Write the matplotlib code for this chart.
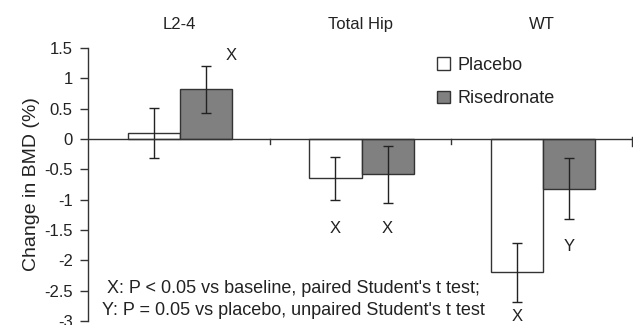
import matplotlib
matplotlib.use("Agg")
import matplotlib.pyplot as plt
import numpy as np

plt.rcParams["font.family"] = ["Liberation Sans", "DejaVu Sans"]

sites = ["L2-4", "Total Hip", "WT"]
placebo = [0.10, -0.65, -2.20]
placebo_err = [0.41, 0.36, 0.49]
risedronate = [0.82, -0.58, -0.82]
risedronate_err = [0.39, 0.47, 0.50]

# significance marks: (site index, arm, y, symbol)
marks = [(0, "ris", 1.38, "X"), (1, "pla", -1.47, "X"), (1, "ris", -1.47, "X"),
         (2, "pla", -2.93, "X"), (2, "ris", -1.78, "Y")]

INK = "#222222"
W = 0.287

fig = plt.figure(figsize=(6.35, 3.25), dpi=100)
ax = fig.add_axes([0.1386, 0.0123, 0.858, 0.8400])

x = np.arange(len(sites)) + 0.506
ekw = dict(ecolor=INK, elinewidth=1.0, capsize=3.5, capthick=1.0)
ax.bar(x - W / 2, placebo, W, yerr=placebo_err, color="white", edgecolor="#333333",
       lw=1.0, error_kw=ekw, label="Placebo", zorder=2)
ax.bar(x + W / 2, risedronate, W, yerr=risedronate_err, color="#808080",
       edgecolor="#333333", lw=1.0, error_kw=ekw, label="Risedronate", zorder=2)

for i, arm, y, sym in marks:
    xx = x[i] - W / 2 if arm == "pla" else x[i] + W / 2
    if i == 0:
        xx += 0.14
    ax.text(xx, y, sym, ha="center", va="center", fontsize=12, color=INK)

for i, name in enumerate(sites):
    ax.text(i + 0.5, 1.0865, name, transform=ax.get_xaxis_transform(),
            ha="center", va="center", fontsize=12, color=INK, clip_on=False)

# zero line with category dividers
ax.axhline(0, color="#333333", lw=1.0, zorder=3)
for d in [1, 2]:
    ax.plot([d, d], [0, -0.08], color="#333333", lw=1.0, zorder=3)
ax.plot([2.998, 2.998], [0.03, -0.12], color="#333333", lw=1.0, zorder=3)

ax.set_xlim(0, 3)
ax.set_ylim(-3, 1.5)
ax.set_xticks([])
ax.set_yticks([1.5, 1, 0.5, 0, -0.5, -1, -1.5, -2, -2.5, -3])
ax.set_yticklabels(["1.5", "1", "0.5", "0", "-0.5", "-1", "-1.5", "-2", "-2.5", "-3"])
ax.tick_params(axis="y", direction="out", length=6, width=1.0, color="#333333",
               labelsize=12, labelcolor=INK, pad=5)
for s in ["top", "right", "bottom"]:
    ax.spines[s].set_visible(False)
ax.spines["left"].set_color("#333333")
ax.spines["left"].set_linewidth(1.0)
ax.set_ylabel("Change in BMD (%)", fontsize=14, color=INK, labelpad=3)

ax.legend(loc="upper left", bbox_to_anchor=(0.611, 1.027), frameon=False, fontsize=13,
          handlelength=0.7, handleheight=0.7, handletextpad=0.4, labelspacing=0.92,
          labelcolor=INK)

ax.text(1.13, -2.65, "X: P < 0.05 vs baseline, paired Student's t test;\n"
        "Y: P = 0.05 vs placebo, unpaired Student's t test",
        ha="center", va="center", fontsize=13, color=INK, linespacing=1.4)

fig.savefig("out.png", dpi=100)
